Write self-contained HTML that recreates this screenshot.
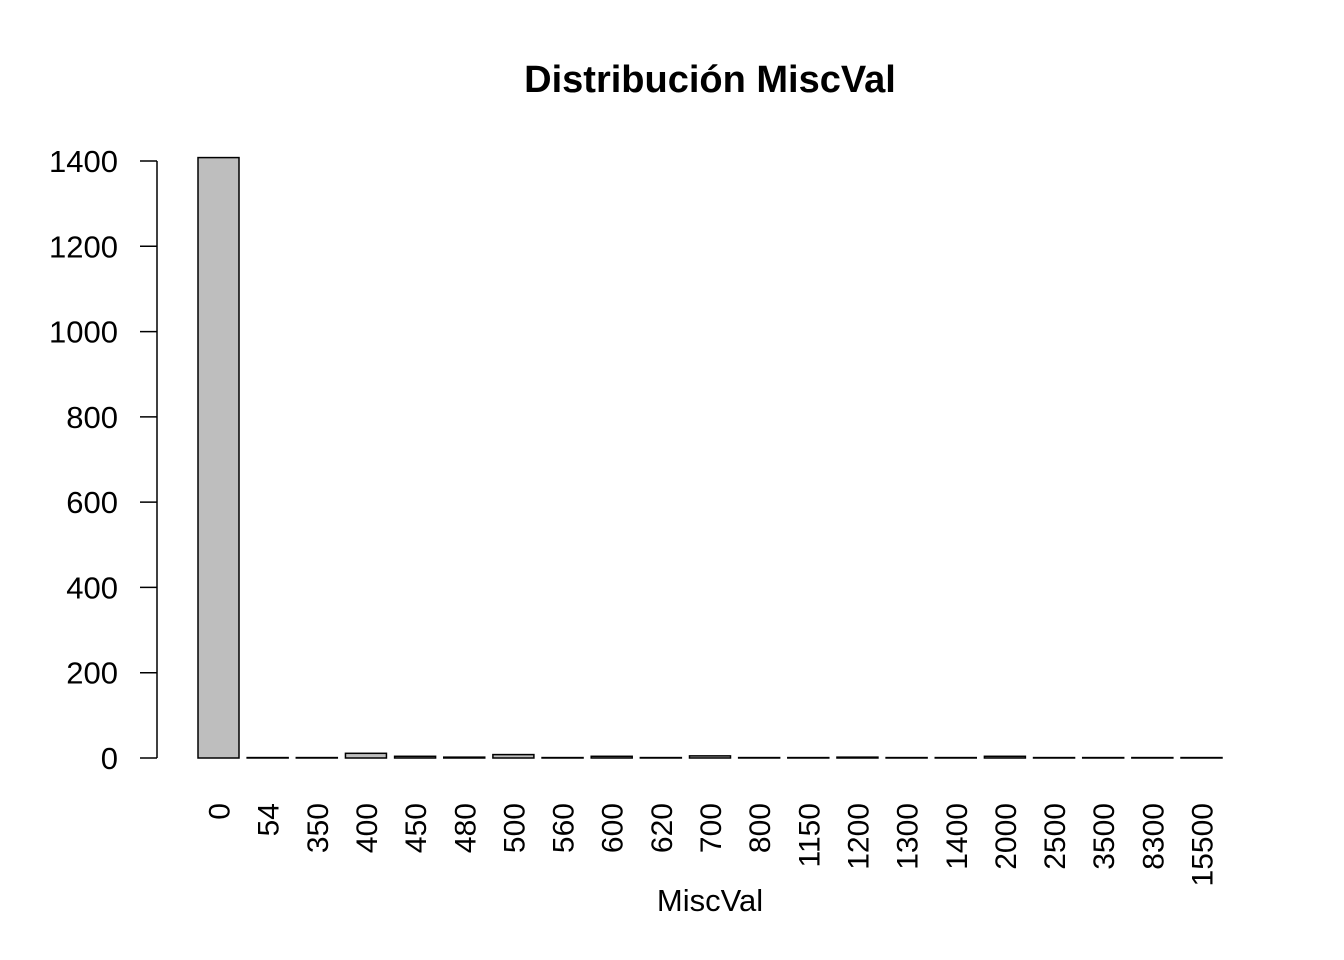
<!DOCTYPE html>
<html><head><meta charset="utf-8"><style>
body{margin:0;background:#fff}
svg{display:block;font-family:"Liberation Sans",Arial,sans-serif}
</style></head><body>
<svg id="chart" width="1344" height="960">
<text x="710" y="92" text-anchor="middle" font-size="38" font-weight="bold">Distribución MiscVal</text>
<text x="710" y="911" text-anchor="middle" font-size="31">MiscVal</text>
<g id="bars"></g><g id="yaxis"></g><g id="xlabels"></g>
</svg>
<script>
const categories=["0","54","350","400","450","480","500","560","600","620","700","800","1150","1200","1300","1400","2000","2500","3500","8300","15500"];
const counts=[1408,1,1,11,4,2,8,1,4,1,5,1,1,2,1,1,4,1,1,1,1];
const yTicks=[0,200,400,600,800,1000,1200,1400];
const NS="http://www.w3.org/2000/svg";
const y0=758, yScale=(161-758)/1400;
function y(v){return y0+v*yScale;}
function xLeft(i){return 198+i*49.15;}
const bw=41;
const bars=document.getElementById('bars');
counts.forEach((c,i)=>{
 const r=document.createElementNS(NS,'rect');
 r.setAttribute('x',xLeft(i));r.setAttribute('y',y(c));
 r.setAttribute('width',bw);r.setAttribute('height',Math.max(0,y0-y(c)));
 r.setAttribute('fill','#bebebe');r.setAttribute('stroke','#000');r.setAttribute('stroke-width','1.5');
 
 
 bars.appendChild(r);
});
const ya=document.getElementById('yaxis');


let h='<line x1="157" x2="157" y1="'+y(0)+'" y2="'+y(1400)+'" stroke="#000" stroke-width="1.5"/>';
yTicks.forEach(t=>{
 h+='<line x1="140" x2="157" y1="'+y(t)+'" y2="'+y(t)+'" stroke="#000" stroke-width="1.5"/>';
 h+='<text x="118" y="'+(y(t)+11)+'" text-anchor="end" font-size="31">'+t+'</text>';
});
ya.innerHTML=h;
const xl=document.getElementById('xlabels');
categories.forEach((c,i)=>{
 const t=document.createElementNS(NS,'text');
 const cx=xLeft(i)+bw/2+11;
 t.setAttribute('transform','translate('+cx+',803) rotate(-90)');
 t.setAttribute('text-anchor','end');t.setAttribute('font-size','30');
 t.textContent=c;
 
 
 xl.appendChild(t);
});
</script>
</body></html>
